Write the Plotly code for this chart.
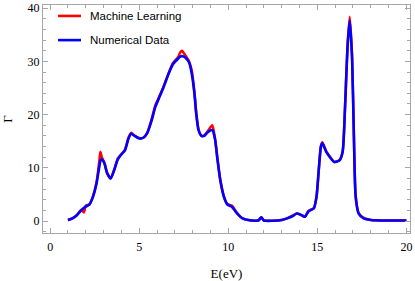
import plotly.graph_objects as go

# photon energy grid (eV)
energy = [1.0, 1.25, 1.5, 1.75, 1.9, 2.0, 2.2, 2.4, 2.6, 2.75, 2.82, 2.9, 3.05, 3.2, 3.4,
          3.6, 3.8, 4.0, 4.2, 4.4, 4.55, 4.75, 5.0, 5.25, 5.45, 5.7, 5.9, 6.1, 6.35,
          6.65, 6.9, 7.2, 7.3, 7.4, 7.5, 7.6, 7.8, 7.95, 8.1, 8.2, 8.33, 8.5, 8.65,
          8.85, 9.1, 9.25, 9.4, 9.55, 9.75, 9.95, 10.2, 10.5, 10.8, 11.2, 11.7, 11.85,
          12.0, 12.5, 13.0, 13.3, 13.6, 13.85, 14.05, 14.3, 14.5, 14.8, 14.95, 15.08,
          15.2, 15.28, 15.5, 15.75, 15.95, 16.25, 16.42, 16.55, 16.7, 16.82, 16.95,
          17.05, 17.15, 17.32, 17.6, 18.0, 19.0, 20.0]

numerical = [0.2, 0.5, 1.1, 2.0, 2.5, 2.7, 3.1, 4.5, 7.0, 10.0, 11.3, 11.6, 10.8, 9.0, 8.0,
             9.6, 11.6, 12.5, 13.3, 15.5, 16.4, 16.0, 15.5, 15.7, 16.5, 18.9, 21.4, 23.0, 25.0,
             27.7, 29.5, 30.6, 30.9, 31.0, 30.9, 30.7, 29.8, 27.7, 24.0, 20.2, 17.1, 16.0, 16.0,
             16.7, 17.1, 15.5, 11.4, 7.7, 4.6, 3.1, 2.7, 1.4, 0.5, 0.15, 0.15, 0.7,
             0.1, 0.05, 0.2, 0.5, 0.9, 1.4, 1.2, 0.8, 1.8, 2.4, 4.5, 9.6,
             14.0, 14.6, 13.0, 11.8, 11.1, 11.4, 13.0, 21.0, 33.0, 37.7, 30.5,
             16.0, 4.6, 1.4, 0.5, 0.2, 0.1, 0.1]

machine_learning = [0.2, 0.5, 1.1, 2.1, 1.6, 2.9, 3.1, 4.6, 7.2, 11.0, 13.0, 12.0, 10.9, 9.0, 8.0,
                    9.7, 11.8, 12.6, 13.4, 15.7, 16.6, 16.0, 15.6, 15.7, 16.6, 19.2, 21.7, 23.2, 25.1,
                    27.8, 29.7, 30.9, 31.7, 32.0, 31.6, 31.1, 30.0, 28.3, 24.2, 20.4, 17.2, 16.0, 16.1,
                    16.9, 18.0, 15.6, 11.5, 7.8, 4.7, 3.2, 2.9, 1.5, 0.5, 0.15, 0.1, 0.7,
                    0.1, 0.05, 0.2, 0.5, 1.0, 1.4, 1.2, 0.8, 1.9, 2.4, 4.5, 9.7,
                    14.1, 14.8, 13.1, 11.9, 11.1, 11.5, 13.1, 21.2, 33.5, 38.4, 30.8,
                    16.1, 4.7, 1.5, 0.6, 0.2, 0.1, 0.1]

series_names = ["Machine Learning", "Numerical Data"]
series_colors = ["#ff0000", "#0000ff"]

x_ticks = [0, 5, 10, 15, 20]
y_ticks = [0, 10, 20, 30, 40]

fig = go.Figure()
for name, color, ys, w in zip(series_names, series_colors, [machine_learning, numerical], [2.5, 2.6]):
    fig.add_trace(go.Scatter(x=energy, y=ys, mode="lines", name=name, showlegend=False,
                             line=dict(color=color, width=w, shape="spline", smoothing=0.6)))

# legend drawn by hand so it can sit close to the top frame (paper coords)
legend_y = [0.952, 0.846]
shapes, annotations = [], []
for name, color, ly in zip(series_names, series_colors, legend_y):
    shapes.append(dict(type="line", xref="paper", yref="paper", x0=0.041, x1=0.1035,
                       y0=ly, y1=ly, line=dict(color=color, width=2.6)))
    annotations.append(dict(xref="paper", yref="paper", x=0.1226, y=ly, text=name,
                            xanchor="left", yanchor="middle", showarrow=False,
                            font=dict(family="Liberation Sans", size=11.5, color="black")))

frame = "#a6a6a6"
axis_common = dict(
    showgrid=False, zeroline=False, showline=True, linecolor=frame, linewidth=1,
    mirror="allticks", ticks="inside", ticklen=5, tickcolor=frame, tickwidth=1,
    tickfont=dict(family="Liberation Serif", size=12, color="black"), automargin=False,
)
fig.update_xaxes(range=[-0.4, 20.2], tickvals=x_ticks, ticktext=[str(v) for v in x_ticks],
                 minor=dict(dtick=1, ticks="inside", ticklen=3, tickcolor=frame),
                 ticklabelstandoff=3,
                 title=dict(text="E(eV)", font=dict(family="Liberation Serif", size=13, color="black"),
                            standoff=17),
                 **axis_common)
fig.update_yaxes(range=[-2.25, 40.6], tickvals=y_ticks, ticktext=[str(v) for v in y_ticks],
                 minor=dict(dtick=2, ticks="inside", ticklen=3, tickcolor=frame),
                 title=dict(text="Γ", font=dict(family="Liberation Serif", size=13, color="black"),
                            standoff=12),
                 **axis_common)

fig.update_layout(
    width=415, height=281,
    margin=dict(l=43, r=5, t=5, b=48),
    plot_bgcolor="white", paper_bgcolor="white",
    shapes=shapes, annotations=annotations,
)

fig.write_html("out.html", config={"displayModeBar": False},
               post_script="document.body.style.margin='0';")
